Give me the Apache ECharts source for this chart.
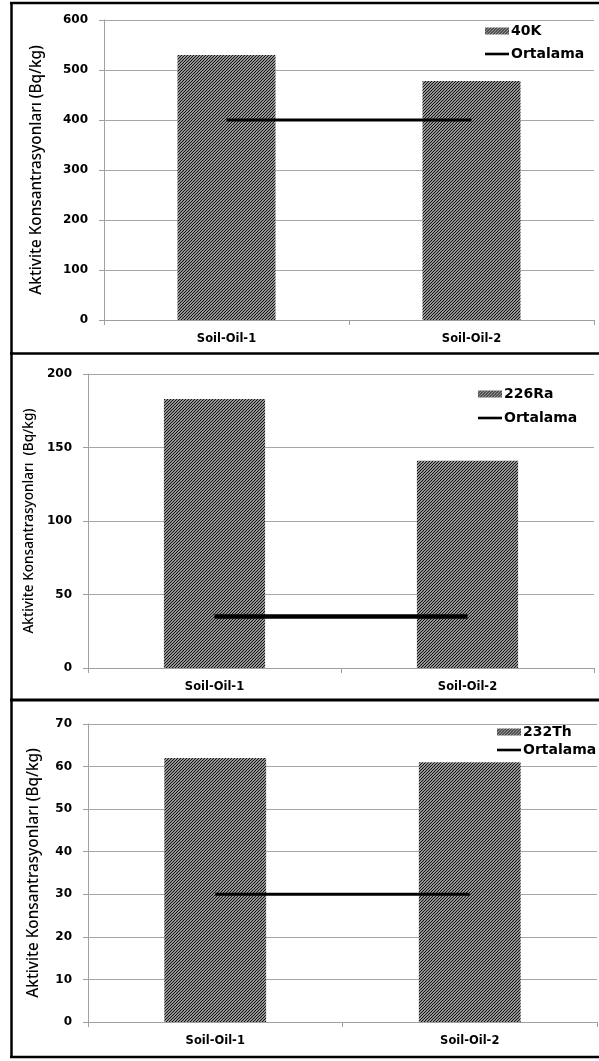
<!DOCTYPE html>
<html>
<head>
<meta charset="utf-8">
<script src="https://cdn.jsdelivr.net/npm/echarts@6/dist/echarts.min.js"></script>
<style>
html,body{margin:0;padding:0;background:#fff;}
#c{width:599px;height:1061px;}
</style>
</head>
<body>
<div id="c"></div>
<script>
// ---- data ----
var categories = ['Soil-Oil-1', 'Soil-Oil-2'];
var k40 = [530, 478];
var k40Mean = [400, 400];
var ra226 = [183, 141];
var ra226Mean = [35, 35];
var th232 = [62, 61];
var th232Mean = [30, 30];
var seriesNames = ['40K', '226Ra', '232Th'];
var meanName = 'Ortalama';
var yTitle = 'Aktivite Konsantrasyonları (Bq/kg)';
var yTitle2 = 'Aktivite Konsantrasyonları  (Bq/kg)';

// hatch pattern
function makeHatch() {
  var c = document.createElement('canvas');
  c.width = 3; c.height = 3;
  var g = c.getContext('2d');
  g.fillStyle = '#ffffff';
  g.fillRect(0, 0, 3, 3);
  g.strokeStyle = '#111111';
  g.lineWidth = 1.3;
  g.beginPath();
  g.moveTo(-1, 4); g.lineTo(4, -1);
  g.moveTo(-1, 1); g.lineTo(1, -1);
  g.moveTo(2, 4); g.lineTo(4, 2);
  g.stroke();
  return c;
}
var hatch = { image: makeHatch(), repeat: 'repeat' };

var chart = echarts.init(document.getElementById('c'), null, { renderer: 'canvas' });

var grids = [
  { left: 104, right: 5, top: 20, height: 300 },
  { left: 88, right: 5, top: 374, height: 294 },
  { left: 88, right: 2, top: 724, height: 298 }
];
var yCfg = [
  { max: 600, interval: 100, nameGap: 60, fs: 15.3, title: yTitle },
  { max: 200, interval: 50, nameGap: 51, fs: 13.6, title: yTitle2 },
  { max: 70, interval: 10, nameGap: 47, fs: 15.3, title: yTitle }
];
var barData = [k40, ra226, th232];
var meanData = [k40Mean, ra226Mean, th232Mean];
var meanWidth = [3, 4.5, 3];
var legendPos = [
  { left: 485, top: 24, gap: 9 },
  { left: 478, top: 387, gap: 10 },
  { left: 497, top: 725, gap: 4 }
];
var lineIcon = 'path://M0,0 M0,2.2 L24,2.2 L24,4.8 L0,4.8 Z M24,7';

var xAxes = [], yAxes = [], series = [], legends = [];
for (var i = 0; i < 3; i++) {
  xAxes.push({
    type: 'category', gridIndex: i, data: categories,
    boundaryGap: true,
    axisLine: { lineStyle: { color: '#a0a0a0', width: 1 } },
    axisTick: { show: true, length: 5, lineStyle: { color: '#a0a0a0' } },
    axisLabel: { color: '#000', fontFamily: 'DejaVu Sans', fontWeight: 'bold', fontSize: 11.5, margin: 13 },
    splitLine: { show: false }
  });
  yAxes.push({
    type: 'value', gridIndex: i, min: 0, max: yCfg[i].max, interval: yCfg[i].interval,
    name: yCfg[i].title, nameLocation: 'middle', nameRotate: 90, nameGap: yCfg[i].nameGap,
    nameTextStyle: { color: '#000', fontFamily: 'Noto Sans', fontSize: yCfg[i].fs, fontWeight: 500 },
    axisLine: { show: true, lineStyle: { color: '#a0a0a0', width: 1 } },
    axisTick: { show: true, length: 5, lineStyle: { color: '#a0a0a0' } },
    axisLabel: { color: '#000', fontFamily: 'DejaVu Sans', fontWeight: 'bold', fontSize: 12, margin: 16 },
    splitLine: { show: true, lineStyle: { color: '#a6a6a6', width: 1 } }
  });
  series.push({
    name: seriesNames[i], type: 'bar', xAxisIndex: i, yAxisIndex: i,
    data: barData[i], barWidth: '40%',
    itemStyle: { color: hatch },
    emphasis: { disabled: true }
  });
  series.push({
    name: meanName, type: 'line', xAxisIndex: i, yAxisIndex: i,
    data: meanData[i], showSymbol: false, symbol: 'none',
    lineStyle: { color: '#000', width: meanWidth[i] },
    itemStyle: { color: '#000' },
    z: 3
  });
  legends.push({
    orient: 'vertical', left: legendPos[i].left, top: legendPos[i].top,
    itemGap: legendPos[i].gap, itemWidth: 24, itemHeight: 7,
    padding: 0,
    selectedMode: false,
    data: [{ name: seriesNames[i], icon: 'rect' }, { name: meanName, icon: lineIcon }],
    textStyle: { color: '#000', fontFamily: 'DejaVu Sans', fontWeight: 'bold', fontSize: 14, padding: [0, 0, 0, -3] }
  });
}

var border = { stroke: '#000', lineWidth: 2.5 };
chart.setOption({
  animation: false,
  backgroundColor: '#fff',
  grid: grids,
  xAxis: xAxes,
  yAxis: yAxes,
  legend: legends,
  series: series,
  graphic: [
    { type: 'line', shape: { x1: 11.5, y1: 3, x2: 11.5, y2: 1057 }, style: border, silent: true },
    { type: 'line', shape: { x1: 10, y1: 3, x2: 599, y2: 3 }, style: border, silent: true },
    { type: 'line', shape: { x1: 10, y1: 353.5, x2: 599, y2: 353.5 }, style: border, silent: true },
    { type: 'line', shape: { x1: 10, y1: 700, x2: 599, y2: 700 }, style: { stroke: '#000', lineWidth: 3 }, silent: true },
    { type: 'line', shape: { x1: 10, y1: 1057, x2: 599, y2: 1057 }, style: border, silent: true }
  ]
});
</script>
</body>
</html>
